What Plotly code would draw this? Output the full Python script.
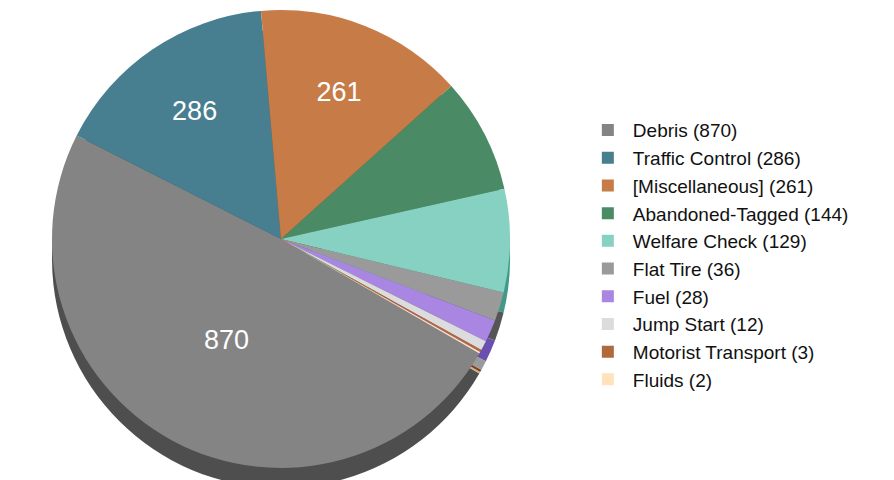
import plotly.graph_objects as go

categories = ["Debris", "Traffic Control", "[Miscellaneous]", "Abandoned-Tagged",
              "Welfare Check", "Flat Tire", "Fuel", "Jump Start",
              "Motorist Transport", "Fluids"]
values = [870, 286, 261, 144, 129, 36, 28, 12, 3, 2]

top_colors = ["#848484", "#477e90", "#c77c48", "#4a8b65", "#86d1c2",
              "#9a9a9a", "#a886e2", "#dcdcdc", "#b0683f", "#ffe3bd"]
side_colors = ["#4e4e4e", "#2c5566", "#8a5228", "#2f5f44", "#3f9a88",
               "#555555", "#6a4fb0", "#9a9a9a", "#7a3f20", "#c8a880"]

legend_names = [f"{c} ({v})" for c, v in zip(categories, values)]
slice_text = [str(v) if v > 200 else "" for v in values]

W, H = 894, 480
cx, cy, r, depth = 273, 231, 229, 20

def dom(cxp, cyp):
    return dict(x=[(cxp - r) / W, (cxp + r) / W],
                y=[(H - (cyp + r)) / H, (H - (cyp - r)) / H])

fig = go.Figure()
# depth (side) layer
fig.add_trace(go.Pie(
    labels=legend_names, values=values, sort=False, direction="clockwise",
    rotation=120, marker=dict(colors=side_colors, line=dict(width=0)),
    textinfo="none", hoverinfo="skip", showlegend=False,
    domain=dom(cx, cy + depth)))
# top face
fig.add_trace(go.Pie(
    labels=legend_names, values=values, sort=False, direction="clockwise",
    rotation=120, marker=dict(colors=top_colors, line=dict(width=0)),
    text=slice_text, textinfo="text", textposition="inside",
    insidetextorientation="horizontal",
    textfont=dict(color="white", size=27, family="Arial, Liberation Sans"),
    domain=dom(cx, cy)))

fig.update_layout(
    width=W, height=H, margin=dict(l=0, r=0, t=0, b=0),
    paper_bgcolor="white", plot_bgcolor="white",
    font=dict(family="Arial, Liberation Sans", size=19, color="#111111"),
    legend=dict(x=0.643, y=0.486, xanchor="left", yanchor="middle",
                font=dict(size=19, color="#111111"), itemwidth=40,
                tracegroupgap=0, bgcolor="rgba(0,0,0,0)"),
)
fig.write_html("out.html")
